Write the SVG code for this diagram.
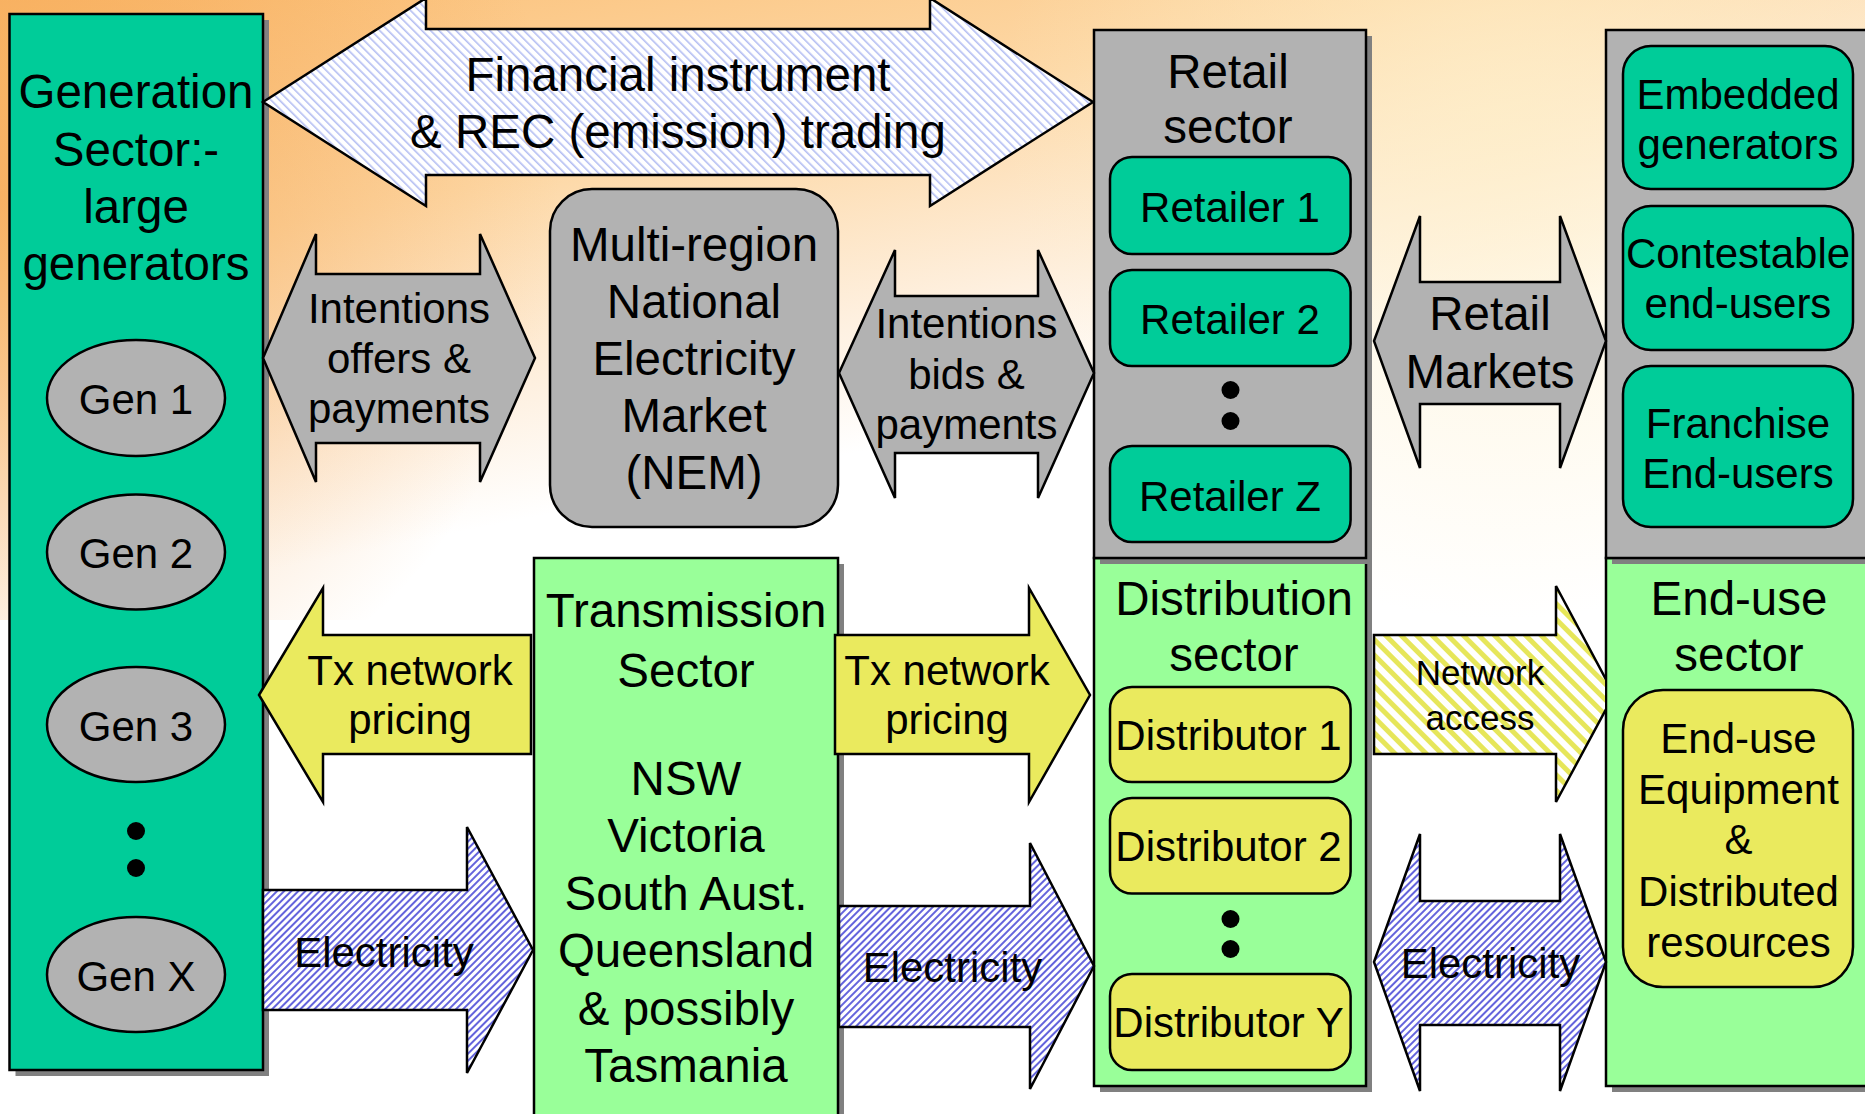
<svg xmlns="http://www.w3.org/2000/svg" width="1865" height="1114" viewBox="0 0 1865 1114">
<style>
text{font-family:"Liberation Sans",Arial,sans-serif;fill:#000;text-anchor:middle}
.t47{font-size:47.5px}
.t42{font-size:42px}
.t35{font-size:35px}
.bx{stroke:#000;stroke-width:2.5}
.sh{fill:#808080}
.teal{fill:#00CC99}
.gray{fill:#B2B2B2}
.lg{fill:#99FF99}
.yel{fill:#EAEA5E}
.ar{stroke:#000;stroke-width:2.5;stroke-linejoin:miter}
</style>
<defs>
<linearGradient id="bgv" gradientUnits="userSpaceOnUse" x1="0" y1="0" x2="120" y2="600">
<stop offset="0" stop-color="#FBBE74"/>
<stop offset="0.45" stop-color="#FDD8A6"/>
<stop offset="0.8" stop-color="#FEF1E2"/>
<stop offset="1" stop-color="#FFFFFF"/>
</linearGradient>
<radialGradient id="bgl" gradientUnits="userSpaceOnUse" cx="0" cy="200" r="560">
<stop offset="0" stop-color="#F4A048" stop-opacity="0.65"/>
<stop offset="1" stop-color="#F4A048" stop-opacity="0"/>
</radialGradient>
<radialGradient id="bgr" gradientUnits="userSpaceOnUse" cx="1500" cy="120" r="500">
<stop offset="0" stop-color="#FEEFC8" stop-opacity="0.7"/>
<stop offset="1" stop-color="#FEEFC8" stop-opacity="0"/>
</radialGradient>
<pattern id="hElec" patternUnits="userSpaceOnUse" width="5" height="5" patternTransform="rotate(45)">
<rect width="5" height="5" fill="#FFFFFF"/>
<rect width="2" height="5" fill="#6464DC"/>
</pattern>
<pattern id="hFin" patternUnits="userSpaceOnUse" width="6" height="6" patternTransform="rotate(-45)">
<rect width="6" height="6" fill="#FFFFFF"/>
<rect width="1.6" height="6" fill="#B4BEF2"/>
</pattern>
<pattern id="hNet" patternUnits="userSpaceOnUse" width="11" height="11" patternTransform="rotate(-45)">
<rect width="11" height="11" fill="#FFFFFF"/>
<rect width="5" height="11" fill="#E6E65A"/>
</pattern>
<clipPath id="clipNet"><rect x="1300" y="500" width="305" height="400"/></clipPath>
</defs>

<g id="background">
<rect x="0" y="0" width="1865" height="1114" fill="#FFFFFF"/>
<rect x="0" y="0" width="1865" height="620" fill="url(#bgv)"/>
<rect x="0" y="0" width="1865" height="620" fill="url(#bgl)"/>
<rect x="0" y="0" width="1865" height="620" fill="url(#bgr)"/>
</g>

<g id="generation-sector">
<rect class="sh" x="15.5" y="20" width="253.5" height="1056"/>
<rect class="bx teal" x="9.5" y="14" width="253.5" height="1056"/>
<text class="t47" x="136" y="108">Generation</text>
<text class="t47" x="136" y="166">Sector:-</text>
<text class="t47" x="136" y="223">large</text>
<text class="t47" x="136" y="280">generators</text>
</g>
<g id="gen-1">
<ellipse class="bx gray" cx="136" cy="398" rx="89" ry="58"/>
<text class="t42" x="136" y="414">Gen 1</text>
</g>
<g id="gen-2">
<ellipse class="bx gray" cx="136" cy="552" rx="89" ry="57.5"/>
<text class="t42" x="136" y="568">Gen 2</text>
</g>
<g id="gen-3">
<ellipse class="bx gray" cx="136" cy="724.5" rx="89" ry="57.5"/>
<text class="t42" x="136" y="740.5">Gen 3</text>
</g>
<g id="gen-dots">
<circle cx="136" cy="831" r="9" fill="#000"/>
<circle cx="136" cy="868" r="9" fill="#000"/>
</g>
<g id="gen-x">
<ellipse class="bx gray" cx="136" cy="974.5" rx="89" ry="57.5"/>
<text class="t42" x="136" y="990.5">Gen X</text>
</g>

<g id="nem">
<rect class="bx gray" x="550" y="189" width="288" height="338" rx="42" ry="42"/>
<text class="t47" x="694" y="261">Multi-region</text>
<text class="t47" x="694" y="318">National</text>
<text class="t47" x="694" y="375">Electricity</text>
<text class="t47" x="694" y="432">Market</text>
<text class="t47" x="694" y="489">(NEM)</text>
</g>

<g id="transmission-sector">
<rect class="sh" x="540" y="564" width="304" height="560"/>
<rect class="bx lg" x="534" y="558" width="304" height="570"/>
<text class="t47" x="686" y="627">Transmission</text>
<text class="t47" x="686" y="687">Sector</text>
<text class="t47" x="686" y="795">NSW</text>
<text class="t47" x="686" y="852">Victoria</text>
<text class="t47" x="686" y="910">South Aust.</text>
<text class="t47" x="686" y="967">Queensland</text>
<text class="t47" x="686" y="1025">&amp; possibly</text>
<text class="t47" x="686" y="1082">Tasmania</text>
</g>

<g id="distribution-sector">
<rect class="sh" x="1100" y="564" width="272" height="528"/>
<rect class="bx lg" x="1094" y="558" width="272" height="528"/>
<text class="t47" x="1234" y="615">Distribution</text>
<text class="t47" x="1234" y="670.5">sector</text>
</g>
<g id="distributor-1">
<rect class="bx yel" x="1110" y="687" width="240.6" height="95" rx="22" ry="22"/>
<text class="t42" x="1228.5" y="749.5">Distributor 1</text>
</g>
<g id="distributor-2">
<rect class="bx yel" x="1110" y="798" width="240.6" height="95.5" rx="22" ry="22"/>
<text class="t42" x="1228.5" y="861">Distributor 2</text>
</g>
<g id="distributor-dots">
<circle cx="1230.5" cy="919" r="9" fill="#000"/>
<circle cx="1230.5" cy="949" r="9" fill="#000"/>
</g>
<g id="distributor-y">
<rect class="bx yel" x="1110" y="974" width="240.6" height="96" rx="22" ry="22"/>
<text class="t42" x="1228.5" y="1037">Distributor Y</text>
</g>

<g id="retail-sector">
<rect class="sh" x="1100" y="36" width="272" height="528"/>
<rect class="bx gray" x="1094" y="30" width="272" height="528"/>
<text class="t47" x="1228" y="87.5">Retail</text>
<text class="t47" x="1228" y="143">sector</text>
</g>
<g id="retailer-1">
<rect class="bx teal" x="1110" y="157" width="240.6" height="97" rx="22" ry="22"/>
<text class="t42" x="1230" y="221.5">Retailer 1</text>
</g>
<g id="retailer-2">
<rect class="bx teal" x="1110" y="270" width="240.6" height="96" rx="22" ry="22"/>
<text class="t42" x="1230" y="334">Retailer 2</text>
</g>
<g id="retailer-dots">
<circle cx="1230.5" cy="390" r="9" fill="#000"/>
<circle cx="1230.5" cy="421" r="9" fill="#000"/>
</g>
<g id="retailer-z">
<rect class="bx teal" x="1110" y="446" width="240.6" height="96" rx="22" ry="22"/>
<text class="t42" x="1230" y="510.5">Retailer Z</text>
</g>

<g id="end-use-sector">
<rect class="sh" x="1612" y="564" width="270" height="528"/>
<rect class="bx lg" x="1606" y="558" width="270" height="528"/>
<text class="t47" x="1739" y="615">End-use</text>
<text class="t47" x="1739" y="670.5">sector</text>
</g>
<g id="end-use-equipment">
<rect class="bx yel" x="1623" y="690" width="230" height="297" rx="40" ry="40"/>
<text class="t42" x="1738.5" y="753">End-use</text>
<text class="t42" x="1738.5" y="804">Equipment</text>
<text class="t42" x="1738.5" y="854">&amp;</text>
<text class="t42" x="1738.5" y="906">Distributed</text>
<text class="t42" x="1738.5" y="956.5">resources</text>
</g>

<g id="customer-sector">
<rect class="sh" x="1612" y="36" width="270" height="528"/>
<rect class="bx gray" x="1606" y="30" width="270" height="528"/>
</g>
<g id="embedded-generators">
<rect class="bx teal" x="1623" y="46" width="230" height="143" rx="28" ry="28"/>
<text class="t42" x="1738" y="109">Embedded</text>
<text class="t42" x="1738" y="159">generators</text>
</g>
<g id="contestable-end-users">
<rect class="bx teal" x="1623" y="206" width="230" height="144" rx="28" ry="28"/>
<text class="t42" x="1738" y="268">Contestable</text>
<text class="t42" x="1738" y="318">end-users</text>
</g>
<g id="franchise-end-users">
<rect class="bx teal" x="1623" y="366" width="230" height="161" rx="28" ry="28"/>
<text class="t42" x="1738" y="437.5">Franchise</text>
<text class="t42" x="1738" y="487.5">End-users</text>
</g>

<g id="connectors">
<g id="financial-trading">
<polygon class="ar" fill="url(#hFin)" points="263,102 426,-2 426,29 930,29 930,-2 1093,102 930,206 930,175 426,175 426,206"/>
<text class="t47" x="678" y="91">Financial instrument</text>
<text class="t47" x="678" y="148">&amp; REC (emission) trading</text>
</g>
<g id="intentions-offers">
<polygon class="ar gray" points="263,358 316,234 316,274 480,274 480,234 535,358 480,482 480,443 316,443 316,482"/>
<text class="t42" x="399" y="323">Intentions</text>
<text class="t42" x="399" y="373">offers &amp;</text>
<text class="t42" x="399" y="423">payments</text>
</g>
<g id="intentions-bids">
<polygon class="ar gray" points="839,373 895,250 895,296 1038,296 1038,250 1094,373 1038,498 1038,453 895,453 895,498"/>
<text class="t42" x="966.5" y="338">Intentions</text>
<text class="t42" x="966.5" y="388.5">bids &amp;</text>
<text class="t42" x="966.5" y="439">payments</text>
</g>
<g id="retail-markets">
<polygon class="ar gray" points="1374,341 1420,216 1420,282 1560,282 1560,216 1606,341 1560,468 1560,404 1420,404 1420,468"/>
<text class="t47" x="1490" y="330">Retail</text>
<text class="t47" x="1490" y="387.5">Markets</text>
</g>
<g id="tx-pricing-left">
<polygon class="ar yel" points="259,695 323,588 323,635 531,635 531,754 323,754 323,802"/>
<text class="t42" x="410" y="685">Tx network</text>
<text class="t42" x="410" y="733.5">pricing</text>
</g>
<g id="tx-pricing-right">
<polygon class="ar yel" points="835,635 1029,635 1029,588 1090,695 1029,802 1029,754 835,754"/>
<text class="t42" x="947" y="685">Tx network</text>
<text class="t42" x="947" y="733.5">pricing</text>
</g>
<g id="network-access">
<polygon class="ar" fill="url(#hNet)" clip-path="url(#clipNet)" points="1374,635 1556,635 1556,586 1614,694.5 1556,802 1556,754 1374,754"/>
<text class="t35" x="1480" y="685">Network</text>
<text class="t35" x="1480" y="730">access</text>
</g>
<g id="electricity-gen-tx">
<polygon class="ar" fill="url(#hElec)" points="263,890 467,890 467,827 533,950 467,1073 467,1010 263,1010"/>
<text class="t42" x="384" y="967">Electricity</text>
</g>
<g id="electricity-tx-dist">
<polygon class="ar" fill="url(#hElec)" points="839,906 1030,906 1030,843 1094,966 1030,1089 1030,1027 839,1027"/>
<text class="t42" x="952.5" y="981.5">Electricity</text>
</g>
<g id="electricity-dist-enduse">
<polygon class="ar" fill="url(#hElec)" points="1374,962 1420,834 1420,901 1560,901 1560,834 1606,962 1560,1091 1560,1025 1420,1025 1420,1091"/>
<text class="t42" x="1490.5" y="978">Electricity</text>
</g>
</g>
</svg>
